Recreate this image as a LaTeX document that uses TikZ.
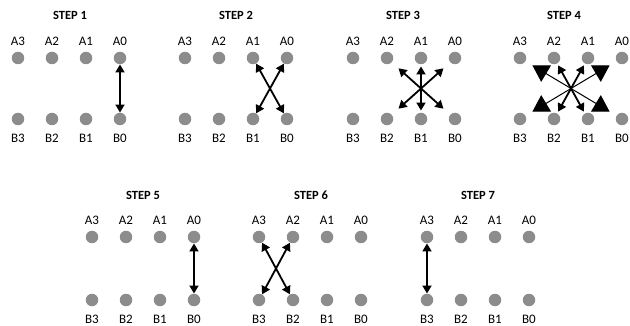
\documentclass[tikz,border=0pt]{standalone}
\usepackage{fontspec}
\setmainfont{Carlito}
\usetikzlibrary{arrows.meta}
\definecolor{dotgray}{RGB}{140,140,140}
\tikzset{
  dot/.style={circle, fill=dotgray, minimum size=12.5pt, inner sep=0pt},
  lbl/.style={font=\fontsize{13}{15}\selectfont, inner sep=0pt},
  ttl/.style={font=\bfseries\fontsize{12.5}{15}\selectfont, inner sep=0pt},
  link/.style={line width=1.8pt,
    {Triangle[length=8pt,width=9pt]}-{Triangle[length=8pt,width=9pt]}},
  biglink/.style={line width=1pt,
    {Triangle[length=16pt,width=19pt]}-{Triangle[length=16pt,width=19pt]}}
}
% one panel: two rows of four dots with labels and a title
% #1 name prefix, #2 x of column 3, #3 title x, #4 title y,
% #5 upper dot row y, #6 lower dot row y, #7 title text
\newcommand\dotgrid[7]{%
  \node[ttl] (#1t) at (#3,#4) {#7};
  \foreach \i in {0,...,3} {
    \pgfmathsetmacro\xx{#2+(3-\i)*34}
    \node[dot] (#1a\i) at (\xx,#5) {};
    \node[dot] (#1b\i) at (\xx,#6) {};
    \node[lbl] (#1la\i) at (\xx,#5-17) {A\i};
    \node[lbl] (#1lb\i) at (\xx,#6+19) {B\i};
  }%
}
\begin{document}
\begin{tikzpicture}[x=1pt,y=-1pt]
\path[use as bounding box] (0,0) rectangle (630,326);

% upper row of panels
\dotgrid{s1}{18}{70}{15}{58}{119}{STEP 1}
\dotgrid{s2}{185}{236}{15}{58}{119}{STEP 2}
\dotgrid{s3}{353}{403}{15}{58}{119}{STEP 3}
\dotgrid{s4}{520}{564}{15}{58}{119}{STEP 4}

% lower row of panels
\dotgrid{s5}{92}{143}{195}{237}{300}{STEP 5}
\dotgrid{s6}{259}{311}{195}{237}{300}{STEP 6}
\dotgrid{s7}{427}{478}{195}{237}{300}{STEP 7}

% step 1
\draw[link] (s1a0) -- (s1b0);
% step 2
\draw[link] (s2a1) -- (s2b0);
\draw[link] (s2a0) -- (s2b1);
% step 3
\draw[link, shorten <=2pt, shorten >=2pt] (s3a1) -- (s3b1);
\draw[link, shorten <=9pt, shorten >=9pt] (s3a2) -- (s3b0);
\draw[link, shorten <=9pt, shorten >=9pt] (s3a0) -- (s3b2);
% step 4
\draw[biglink, shorten <=8pt, shorten >=8pt] (s4a3) -- (s4b0);
\draw[biglink, shorten <=8pt, shorten >=8pt] (s4a0) -- (s4b3);
\draw[link, shorten <=2pt, shorten >=2pt] (s4a2) -- (s4b1);
\draw[link, shorten <=2pt, shorten >=2pt] (s4a1) -- (s4b2);
% step 5
\draw[link] (s5a0) -- (s5b0);
% step 6
\draw[link] (s6a3) -- (s6b2);
\draw[link] (s6a2) -- (s6b3);
% step 7
\draw[link] (s7a3) -- (s7b3);
\end{tikzpicture}
\end{document}
